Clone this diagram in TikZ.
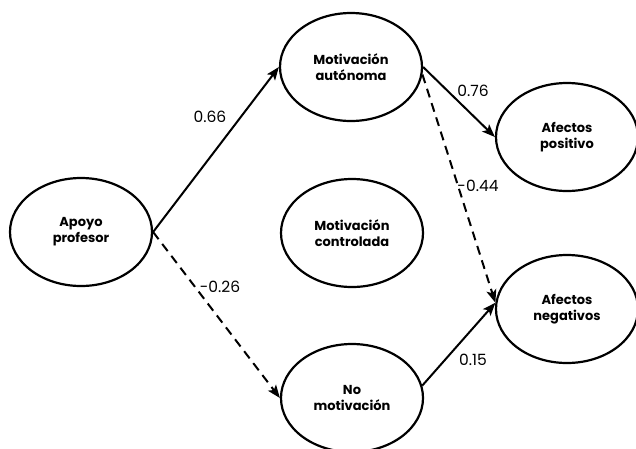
\documentclass[tikz,border=0pt]{standalone}
\usepackage{fontspec}
\setmainfont{Poppins}
\usetikzlibrary{arrows.meta,shapes.geometric}
\begin{document}
\begin{tikzpicture}[x=1pt,y=-1pt,
  var/.style={ellipse,draw,line width=2.2pt,minimum width=142pt,minimum height=108pt,
    inner sep=0pt,align=center,font=\fontsize{13}{16}\selectfont\bfseries},
  lbl/.style={font=\fontsize{15.5}{17}\selectfont,inner sep=0pt},
  arr/.style={line width=2pt,-{Stealth[length=13pt,width=10pt,inset=3pt]}},
  dasharr/.style={arr,dash pattern=on 9pt off 6pt}]
\useasboundingbox (0,0) rectangle (636,448);
\node[var] (ap) at (81,232) {Apoyo\\profesor};
\node[var] (ma) at (351,67) {Motivación\\autónoma};
\node[var] (mc) at (352,233) {Motivación\\controlada};
\node[var] (nm) at (352,398) {No\\motivación};
\node[var] (pos) at (567,137) {Afectos\\positivo};
\node[var] (ng) at (567,309) {Afectos\\negativos};
\draw[arr] (ap.east) -- (ma.west);
\draw[dasharr] (ap.east) -- (nm.west);
\draw[arr] (ma.east) -- (pos.west);
\draw[dasharr] (ma.-6) -- (ng.175);
\draw[arr] (nm.10) -- (ng.175);
\node[lbl] (l1) at (210,117) {0.66};
\node[lbl] (l2) at (220,287) {-0.26};
\node[lbl] (l3) at (473,91) {0.76};
\node[lbl] (l4) at (478,186) {-0.44};
\node[lbl] (l5) at (473,360) {0.15};
\end{tikzpicture}
\end{document}
